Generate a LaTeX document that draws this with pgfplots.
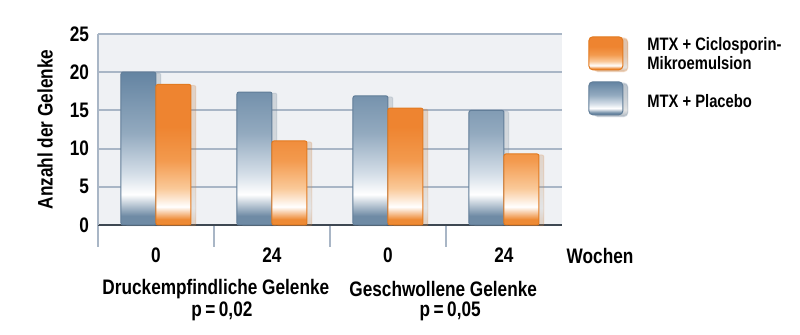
\documentclass[border=0pt]{standalone}
\usepackage{pgfplots}
\pgfplotsset{compat=1.18}
\usetikzlibrary{shadows}
\usepackage{fontspec}
\setmainfont{Liberation Sans}[FakeStretch=0.82]
\definecolor{bgc}{HTML}{EFF1F4}
\definecolor{gridc}{HTML}{A9B6C6}
\definecolor{axisdark}{HTML}{3E4852}
\definecolor{bT}{HTML}{6484A2}
\definecolor{bM}{HTML}{93AABF}
\definecolor{bL}{HTML}{D3DDE7}
\definecolor{bB}{HTML}{6F8BA5}
\definecolor{bE}{HTML}{617D98}
\definecolor{oT}{HTML}{EE8430}
\definecolor{oM}{HTML}{F39A4E}
\definecolor{oL}{HTML}{FAC999}
\definecolor{oB}{HTML}{EE8A34}
\definecolor{oE}{HTML}{E27A20}
\pgfdeclareverticalshading{bluebar}{100bp}{color(0bp)=(bB); color(25bp)=(bB); color(28bp)=(bB); color(35bp)=(white); color(42bp)=(bL); color(55bp)=(bM); color(75bp)=(bT); color(100bp)=(bT)}
\pgfdeclareverticalshading{orangebar}{100bp}{color(0bp)=(oB); color(25bp)=(oB); color(27bp)=(oB); color(31.5bp)=(white); color(38bp)=(oL); color(48bp)=(oM); color(60bp)=(oT); color(75bp)=(oT); color(100bp)=(oT)}
\newcommand\ff{\fontsize{10.5}{9.5}\selectfont\bfseries}
\newcommand\lf{\fontsize{9}{9.5}\selectfont\bfseries}
\begin{document}
\begin{tikzpicture}
\useasboundingbox (-49pt,-55pt) rectangle (351pt,112.5pt);
\begin{axis}[
  scale only axis, width=232pt, height=95.5pt,
  xmin=0, xmax=4, ymin=0, ymax=25,
  clip=false,
  ybar=0pt, bar width=17.5pt,
  axis lines*=left,
  axis background/.style={fill=bgc},
  x axis line style={draw=axisdark, line width=1pt},
  y axis line style={draw=gridc, line width=1pt},
  xtick={0.5,1.5,2.5,3.5}, xticklabels={0,24,0,24},
  minor xtick={0,1,2,3},
  major x tick style={draw=none},
  minor x tick style={draw=gridc, line width=1pt},
  minor tick length=11pt,
  tick align=outside,
  ytick={0,5,10,15,20,25},
  major y tick style={draw=none},
  ymajorgrids, major grid style={draw=gridc, line width=1pt},
  /pgf/number format/assume math mode=true,
  every tick label/.append style={font=\ff},
  yticklabel style={inner sep=0pt, xshift=0pt},
  xticklabel style={anchor=center, yshift=-11pt, inner sep=0pt},
  ylabel={Anzahl der Gelenke},
  ylabel style={font=\ff, at={(axis description cs:-0.114,0.5)}, anchor=center},
  reverse legend,
  legend cell align=left,
  legend style={draw=none, fill=none, at={(1.056,0.99)}, anchor=north west,
    inner sep=0pt, row sep=4.5pt, column sep=12pt,
    nodes={inner sep=0pt, align=left, font=\lf}},
]
\addplot[draw=bE, line width=0.5pt, shade, shading=bluebar, rounded corners=1pt,
  drop shadow={shadow xshift=2.5pt, shadow yshift=-0.5pt, opacity=0.15},
  legend image code/.code={\draw[draw=bE, line width=0.5pt, shade, shading=bluebar, rounded corners=2pt, drop shadow={shadow xshift=2.5pt, shadow yshift=-1pt, opacity=0.15}] (0pt,-6pt) rectangle (17pt,10.5pt);}]
  coordinates {(0.5,20.0) (1.5,17.4) (2.5,16.9) (3.5,15.0)};
\addlegendentry{MTX + Placebo}
\addplot[draw=oE, line width=0.5pt, shade, shading=orangebar, rounded corners=1pt,
  drop shadow={shadow xshift=2.5pt, shadow yshift=-0.5pt, opacity=0.15},
  legend image code/.code={\draw[draw=oE, line width=0.5pt, shade, shading=orangebar, rounded corners=2pt, drop shadow={shadow xshift=2.5pt, shadow yshift=-1pt, opacity=0.15}] (0pt,-7.5pt) rectangle (17pt,9pt);}]
  coordinates {(0.5,18.4) (1.5,11.0) (2.5,15.3) (3.5,9.3)};
\addlegendentry{MTX + Ciclosporin-\\Mikroemulsion}
\node[font=\ff] at (axis description cs:1.082,-0.162) {Wochen};
\node[font=\ff] at (axis description cs:0.254,-0.337) {Druckempfindliche Gelenke};
\node[font=\ff] at (axis description cs:0.267,-0.452) {p\,=\,0,02};
\node[font=\ff] at (axis description cs:0.744,-0.337) {Geschwollene Gelenke};
\node[font=\ff] at (axis description cs:0.759,-0.452) {p\,=\,0,05};
\end{axis}
\end{tikzpicture}
\end{document}
